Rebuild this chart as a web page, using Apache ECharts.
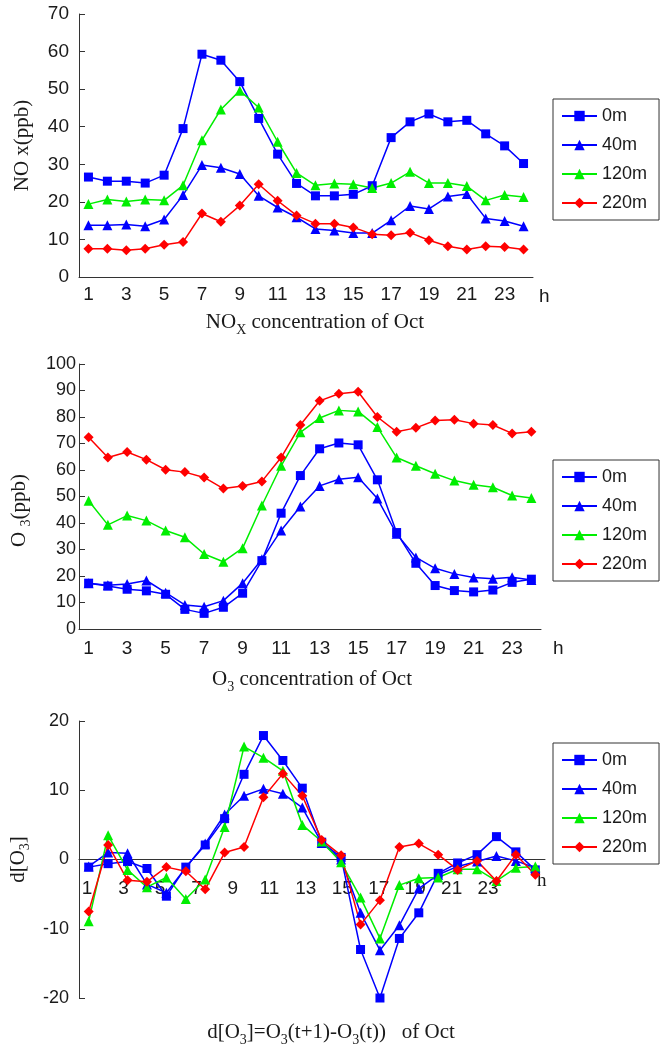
<!DOCTYPE html>
<html>
<head>
<meta charset="utf-8">
<title>NOx and O3 by height, October</title>
<script src="https://cdn.jsdelivr.net/npm/echarts@6/dist/echarts.min.js"></script>
<style>
  html, body { margin: 0; padding: 0; background: #fff; }
  #chart { width: 664px; height: 1044px; }
</style>
</head>
<body>
<div id="chart"></div>
<script>
  // hour of day (category axis)
  var hours = ['1', '2', '3', '4', '5', '6', '7', '8', '9', '10', '11', '12',
               '13', '14', '15', '16', '17', '18', '19', '20', '21', '22', '23', '24']
  var heights = ['0m', '40m', '120m', '220m']
  // labels of the bottom panel sit on their own (slightly narrower) scale
  var dO3Ticks = [1, 3, 5, 7, 9, 11, 13, 15, 17, 19, 21, 23]

  // NOx (ppb)
  var nox0m   = [26.6, 25.5, 25.5, 25.0, 27.1, 39.5, 59.3, 57.7, 52.0, 42.2, 32.7, 24.9, 21.6, 21.6, 22.0, 24.3, 37.1, 41.3, 43.4, 41.3, 41.7, 38.1, 34.9, 30.2]
  var nox40m  = [13.8, 13.8, 14.0, 13.5, 15.3, 21.8, 29.8, 29.1, 27.4, 21.6, 18.5, 15.9, 12.8, 12.4, 11.7, 11.7, 15.1, 18.9, 18.1, 21.4, 22.1, 15.6, 14.9, 13.5]
  var nox120m = [19.4, 20.6, 20.1, 20.6, 20.4, 24.4, 36.4, 44.6, 49.6, 45.1, 36.0, 27.7, 24.4, 24.9, 24.7, 23.7, 25.0, 28.0, 25.0, 25.0, 24.2, 20.4, 21.8, 21.3]
  var nox220m = [7.5, 7.5, 7.1, 7.5, 8.6, 9.3, 16.9, 14.7, 19.0, 24.7, 20.3, 16.4, 14.2, 14.2, 13.2, 11.4, 11.1, 11.8, 9.8, 8.2, 7.3, 8.2, 8.0, 7.3]

  // O3 (ppb)
  var o3_0m   = [17.3, 16.2, 15.0, 14.4, 13.1, 7.4, 5.9, 8.2, 13.5, 25.8, 43.7, 57.9, 68.0, 70.2, 69.5, 56.3, 36.4, 24.8, 16.4, 14.5, 14.0, 14.7, 17.6, 18.8]
  var o3_40m  = [17.3, 16.5, 17.0, 18.3, 13.7, 9.1, 8.4, 10.7, 17.3, 26.3, 37.2, 46.2, 54.0, 56.5, 57.3, 49.2, 35.9, 27.0, 22.9, 20.8, 19.4, 19.0, 19.5, 18.5]
  var o3_120m = [48.4, 39.3, 42.8, 40.9, 37.2, 34.6, 28.3, 25.4, 30.5, 46.6, 61.6, 74.2, 79.6, 82.5, 82.1, 76.2, 64.7, 61.6, 58.6, 56.0, 54.4, 53.5, 50.4, 49.4]
  var o3_220m = [72.4, 64.7, 66.8, 63.9, 60.1, 59.2, 57.2, 53.0, 54.0, 55.7, 64.7, 77.0, 86.1, 88.8, 89.5, 80.0, 74.4, 75.9, 78.7, 79.0, 77.5, 77.0, 73.8, 74.4]

  // d[O3] = O3(t+1) - O3(t)
  var d0m   = [-1.1, -0.6, -0.3, -1.3, -5.3, -1.1, 2.1, 5.9, 12.3, 17.9, 14.3, 10.3, 2.5, 0.3, -13.0, -20.0, -11.4, -7.7, -2.0, -0.5, 0.7, 3.3, 1.1, -1.5]
  var d40m  = [-1.0, 1.0, 0.9, -3.6, -4.8, -1.2, 2.3, 6.5, 9.2, 10.2, 9.5, 7.5, 2.4, 0.0, -7.7, -13.1, -9.5, -4.2, -2.2, -1.0, -0.3, 0.5, -0.2, -1.2]
  var d120m = [-8.9, 3.5, -1.5, -4.0, -2.6, -5.7, -2.9, 4.7, 16.3, 14.7, 12.8, 5.0, 2.6, -0.4, -5.5, -11.4, -3.7, -2.7, -2.6, -1.4, -1.4, -3.1, -1.2, -1.0]
  var d220m = [-7.5, 2.1, -3.0, -3.2, -1.1, -1.7, -4.3, 1.0, 1.8, 9.0, 12.4, 9.2, 2.8, 0.6, -9.4, -5.9, 1.8, 2.3, 0.7, -1.5, -0.2, -3.1, 0.7, -2.2]

  var SANS = 'Liberation Sans'
  var SERIF = 'Liberation Serif'
  var INK = '#1a1a1a'
  var AXIS = '#333'

  var look = {
    '0m':   { color: '#0000ff', symbol: 'rect', size: 9 },
    '40m':  { color: '#0000ff', symbol: 'triangle', size: 10 },
    '120m': { color: '#00ee00', symbol: 'triangle', size: 10 },
    '220m': { color: '#ff0000', symbol: 'diamond', size: 10 }
  }

  function line(name, data, idx) {
    var s = look[name]
    return {
      name: name,
      type: 'line',
      xAxisIndex: idx,
      yAxisIndex: idx,
      data: data,
      symbol: s.symbol,
      symbolSize: s.size,
      showAllSymbol: true,
      color: s.color,
      lineStyle: { width: 1.5, color: s.color },
      itemStyle: { color: s.color },
      animation: false
    }
  }

  function legend(top) {
    return {
      orient: 'vertical',
      left: 553,
      top: top,
      data: heights,
      selectedMode: false,
      itemWidth: 35,
      itemHeight: 13,
      itemGap: 11,
      padding: [8, 12, 8, 8],
      borderColor: AXIS,
      borderWidth: 1,
      textStyle: { fontFamily: SANS, fontSize: 18, color: INK }
    }
  }

  function catAxis(idx, showLabel, labelMargin, hStyle) {
    return {
      type: 'category',
      gridIndex: idx,
      data: hours,
      boundaryGap: true,
      axisLine: { lineStyle: { color: AXIS, width: 1 } },
      axisTick: { inside: true, length: 5, interval: 0, lineStyle: { color: AXIS } },
      axisLabel: { show: showLabel, interval: 1, margin: labelMargin, fontFamily: SANS, fontSize: 19, color: INK },
      splitLine: { show: false },
      name: 'h',
      nameLocation: 'end',
      nameGap: hStyle.gap,
      nameTextStyle: { fontFamily: hStyle.font, fontSize: 19, color: INK, verticalAlign: 'top', padding: [hStyle.down, 0, 0, 0] }
    }
  }

  function valAxis(idx, min, max, nameText, nameGap, labelMargin, fontSize, namePad) {
    return {
      type: 'value',
      gridIndex: idx,
      min: min,
      max: max,
      interval: 10,
      axisLine: { show: true, onZero: false, lineStyle: { color: AXIS, width: 1 } },
      axisTick: { show: true, inside: true, length: 6, lineStyle: { color: AXIS } },
      axisLabel: { margin: labelMargin, fontFamily: SANS, fontSize: fontSize, color: INK },
      splitLine: { show: false },
      name: nameText,
      nameLocation: 'middle',
      nameRotate: 90,
      nameGap: nameGap,
      nameTextStyle: {
        fontFamily: SERIF, fontSize: 21, color: INK,
        padding: namePad || 0,
        rich: { s: { fontFamily: SERIF, fontSize: 14, color: INK, verticalAlign: 'bottom', lineHeight: 28 } }
      }
    }
  }

  var subRich = { s: { fontFamily: SERIF, fontSize: 14, color: INK, verticalAlign: 'bottom', lineHeight: 30 } }

  function caption(x, y, text) {
    return {
      type: 'text',
      x: x,
      y: y,
      style: {
        text: text,
        fontFamily: SERIF,
        fontSize: 21,
        fill: INK,
        align: 'center',
        verticalAlign: 'middle',
        rich: subRich
      }
    }
  }

  var chart = echarts.init(document.getElementById('chart'), null, { renderer: 'canvas' })

  var option = {
    backgroundColor: '#fff',
    animation: false,
    grid: [
      { left: 79, top: 14, width: 454, height: 263, outerBoundsMode: 'none' },
      { left: 79, top: 364, width: 462, height: 265, outerBoundsMode: 'none' },
      { left: 79, top: 721, width: 466, height: 277, outerBoundsMode: 'none' }
    ],
    legend: [legend(99), legend(460), legend(743)],
    xAxis: [
      catAxis(0, true, 8, { gap: 6, down: 10, font: SANS }),
      catAxis(1, true, 10, { gap: 12, down: 10, font: SANS }),
      // bottom panel: ticks and line on zero, labels drawn by the axis below
      catAxis(2, false, 0, { gap: -8, down: 12, font: SERIF }),
      {
        type: 'value',
        gridIndex: 2,
        position: 'bottom',
        offset: -138,
        min: 0.56,
        max: 26.12,
        axisLine: { show: false, onZero: false },
        axisTick: { show: false },
        splitLine: { show: false },
        axisLabel: { customValues: dO3Ticks, margin: 19, fontFamily: SANS, fontSize: 19, color: INK }
      }
    ],
    yAxis: [
      valAxis(0, 0, 70, 'NO x(ppb)', 46, 10, 19),
      valAxis(1, 0, 100, 'O {s|3}(ppb)', 46, 3, 18, [0, 28, 0, 0]),
      valAxis(2, -20, 20, 'd[O{s|3}]', 46, 10, 18)
    ],
    series: [
      line('0m', nox0m, 0), line('40m', nox40m, 0), line('120m', nox120m, 0), line('220m', nox220m, 0),
      line('0m', o3_0m, 1), line('40m', o3_40m, 1), line('120m', o3_120m, 1), line('220m', o3_220m, 1),
      line('0m', d0m, 2), line('40m', d40m, 2), line('120m', d120m, 2), line('220m', d220m, 2)
    ],
    graphic: [
      caption(315, 322, 'NO{s|X} concentration of Oct'),
      caption(312, 679, 'O{s|3} concentration of Oct'),
      caption(331, 1032, 'd[O{s|3}]=O{s|3}(t+1)-O{s|3}(t))   of Oct')
    ]
  }

  chart.setOption(option)
</script>
</body>
</html>
